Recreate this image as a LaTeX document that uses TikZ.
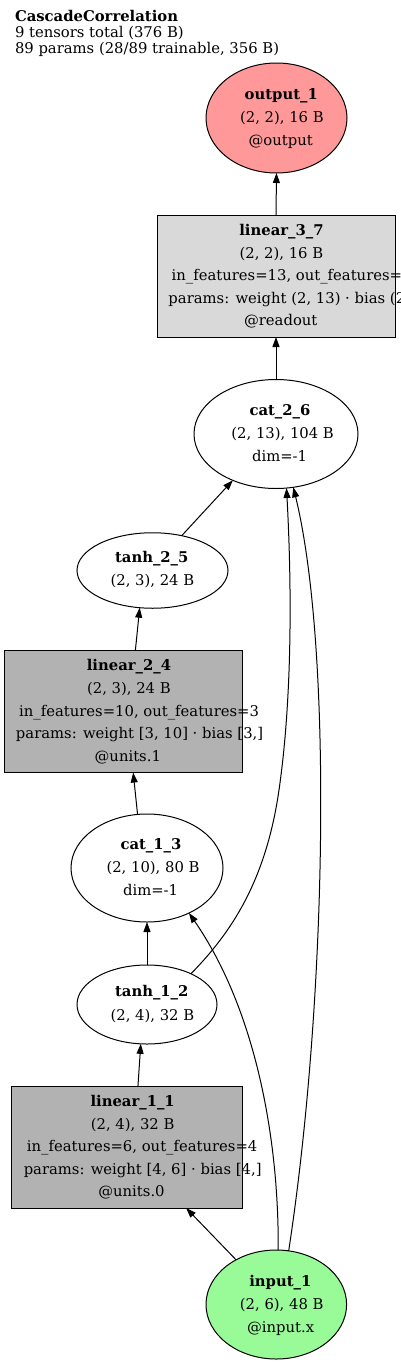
\documentclass[tikz,border=0pt]{standalone}
\usepackage{fontspec}
\setmainfont{DejaVu Serif}
\usetikzlibrary{arrows.meta,shapes.geometric}
\definecolor{outfill}{RGB}{255,153,153}
\definecolor{infill}{RGB}{152,251,152}
\definecolor{lightbox}{RGB}{217,217,217}
\definecolor{darkbox}{RGB}{178,178,178}
\newcommand\txtfont{\fontsize{14.8}{16}\selectfont}
\newlength\lablw
% each line starts at c - 0.435*w (as in the reference's rendering)
\newcommand\labline[4]{\node[txt,name=#1] at (#2,#3) {\settowidth\lablw{#4}\hspace*{0.13\lablw}#4};}
\tikzset{
  txt/.style={anchor=base,inner sep=0,outer sep=0,font=\txtfont},
  ttl/.style={anchor=base west,inner sep=0,outer sep=0,font=\txtfont},
  ell/.style={ellipse,draw,line width=1pt,inner sep=0,outer sep=0},
  opbox/.style={rectangle,draw,line width=1pt,inner sep=0,outer sep=0},
  conn/.style={line width=1pt,-{Triangle[length=10pt,width=7pt]}}
}
\begin{document}
\begin{tikzpicture}[x=1pt,y=-1pt]
\fill[white] (0,0) rectangle (400,1365);
\useasboundingbox (0,0) rectangle (400,1365);
% title
\node[ttl] (t1) at (15,21) {\bfseries CascadeCorrelation};
\node[ttl] (t2) at (15,37) {9 tensors total (376 B)};
\node[ttl] (t3) at (15,53) {89 params (28/89 trainable, 356 B)};
% shapes
\node[ell,fill=outfill,minimum width=141,minimum height=110] (out1) at (276.5,118) {};
\node[opbox,fill=lightbox,minimum width=238,minimum height=122] (lin37) at (276,276) {};
\node[ell,fill=white,minimum width=164,minimum height=109] (cat26) at (276,434) {};
\node[ell,fill=white,minimum width=151,minimum height=75.5] (tanh25) at (152.5,570.5) {};
\node[opbox,fill=darkbox,minimum width=238,minimum height=122.5] (lin24) at (123.5,711.3) {};
\node[ell,fill=white,minimum width=152,minimum height=108] (cat13) at (147,868) {};
\node[ell,fill=white,minimum width=140,minimum height=79] (tanh12) at (147,1004.5) {};
\node[opbox,fill=darkbox,minimum width=230.5,minimum height=122] (lin11) at (127.2,1147) {};
\node[ell,fill=infill,minimum width=140.6,minimum height=109] (in1) at (276.3,1304.5) {};
% labels
\labline{out1-a}{276.5}{99.5}{\bfseries output\_1}
\labline{out1-b}{276.5}{122.5}{(2, 2), 16 B}
\labline{out1-c}{276.5}{145.5}{@output}
\labline{lin37-a}{276}{235.5}{\bfseries linear\_3\_7}
\labline{lin37-b}{276}{258.1}{(2, 2), 16 B}
\labline{lin37-c}{276}{280.7}{in\_features=13, out\_features=2}
\labline{lin37-d}{276}{303.3}{params: weight (2, 13) · bias (2,)}
\labline{lin37-e}{276}{325.9}{@readout}
\labline{cat26-a}{276}{415.5}{\bfseries cat\_2\_6}
\labline{cat26-b}{276}{438.5}{(2, 13), 104 B}
\labline{cat26-c}{276}{461.5}{dim=-1}
\labline{tanh25-a}{147}{562}{\bfseries tanh\_2\_5}
\labline{tanh25-b}{147}{585.2}{(2, 3), 24 B}
\labline{lin24-a}{123.5}{670.8}{\bfseries linear\_2\_4}
\labline{lin24-b}{123.5}{693.4}{(2, 3), 24 B}
\labline{lin24-c}{123.5}{716}{in\_features=10, out\_features=3}
\labline{lin24-d}{123.5}{738.6}{params: weight [3, 10] · bias [3,]}
\labline{lin24-e}{123.5}{761.2}{@units.1}
\labline{cat13-a}{147}{849.5}{\bfseries cat\_1\_3}
\labline{cat13-b}{147}{872.5}{(2, 10), 80 B}
\labline{cat13-c}{147}{895.5}{dim=-1}
\labline{tanh12-a}{147}{996.8}{\bfseries tanh\_1\_2}
\labline{tanh12-b}{147}{1020}{(2, 4), 32 B}
\labline{lin11-a}{127.2}{1106.5}{\bfseries linear\_1\_1}
\labline{lin11-b}{127.2}{1129.1}{(2, 4), 32 B}
\labline{lin11-c}{127.2}{1151.7}{in\_features=6, out\_features=4}
\labline{lin11-d}{127.2}{1174.3}{params: weight [4, 6] · bias [4,]}
\labline{lin11-e}{127.2}{1196.9}{@units.0}
\labline{in1-a}{276.3}{1286.5}{\bfseries input\_1}
\labline{in1-b}{276.3}{1309.5}{(2, 6), 48 B}
\labline{in1-c}{276.3}{1332.5}{@input.x}
% connectors
\coordinate (via1) at (279,790);
\draw[conn] (in1.132.9) -- (lin11.314.3);
\draw[conn] (lin11.80.1) -- (tanh12.261.4);
\draw[conn] (tanh12.90) -- (cat13.270);
\draw[conn] (cat13.100.5) -- (lin24.279.8);
\draw[conn] (lin24.79.1) -- (tanh25.251.6);
\draw[conn] (tanh25.50.6) -- (cat26.227.5);
\draw[conn] (cat26.90) -- (lin37.270);
\draw[conn] (lin37.90) -- (out1.270);
\draw[conn] (tanh12.35.6) .. controls (232,932) and (266,880) .. (via1) .. controls (292,700) and (292,590) .. (cat26.281);
\draw[conn] (in1.88) .. controls (279,1140) and (256,1010) .. (cat13.313);
\draw[conn] (in1.77.5) .. controls (327,1000) and (333,650) .. (cat26.288);
\end{tikzpicture}
\end{document}
